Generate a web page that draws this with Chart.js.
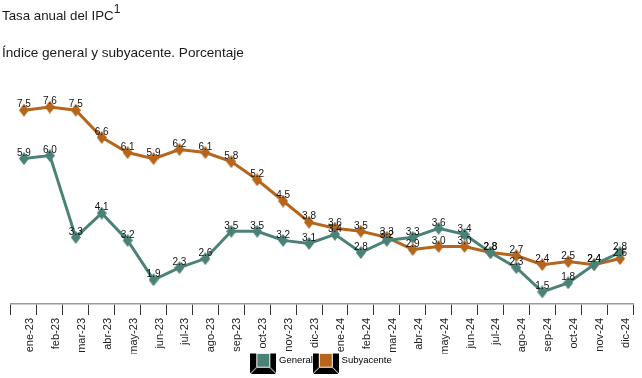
<!DOCTYPE html>
<html><head><meta charset="utf-8">
<script src="https://cdn.jsdelivr.net/npm/chart.js@4/dist/chart.umd.min.js"></script>
<style>
html,body{margin:0;padding:0;background:#fff;}
#wrap{position:relative;width:642px;height:378px;overflow:hidden;font-family:"Liberation Sans",Arial,sans-serif;color:#1a1a1a;}
#c{position:absolute;left:0;top:0;}
.t{position:absolute;left:2px;white-space:nowrap;line-height:16px;}
#title{top:8px;font-size:13.3px;}
#title sup{font-size:12px;vertical-align:0;position:relative;top:-7px;}
#sub{top:45px;font-size:13.6px;}
</style></head><body>
<div id="wrap"><canvas id="c" width="642" height="378"></canvas>
<div class="t" id="title">Tasa anual del IPC<sup>1</sup></div>
<div class="t" id="sub">Índice general y subyacente. Porcentaje</div></div>
<script>
const categories = ["ene-23","feb-23","mar-23","abr-23","may-23","jun-23","jul-23","ago-23","sep-23","oct-23","nov-23","dic-23",
                    "ene-24","feb-24","mar-24","abr-24","may-24","jun-24","jul-24","ago-24","sep-24","oct-24","nov-24","dic-24"];
const general    = [5.9,6.0,3.3,4.1,3.2,1.9,2.3,2.6,3.5,3.5,3.2,3.1, 3.4,2.8,3.2,3.3,3.6,3.4,2.8,2.3,1.5,1.8,2.4,2.8];
const subyacente = [7.5,7.6,7.5,6.6,6.1,5.9,6.2,6.1,5.8,5.2,4.5,3.8, 3.6,3.5,3.3,2.9,3.0,3.0,2.8,2.7,2.4,2.5,2.4,2.6];
const seriesNames = ["General","Subyacente"];

const FONT = '"Liberation Sans", Arial, sans-serif';
const C_GEN = '#4b8278';
const C_SUB = '#b5661c';

function diamond(color){
  const c=document.createElement('canvas');c.width=10;c.height=13;
  const x=c.getContext('2d');x.fillStyle=color;x.beginPath();
  x.moveTo(5,0);x.lineTo(10,6.5);x.lineTo(5,13);x.lineTo(0,6.5);x.closePath();x.fill();
  return c;
}
function legendBox(color){
  const w=26,h=27;
  const c=document.createElement('canvas');c.width=w;c.height=h;
  const x=c.getContext('2d');
  x.fillStyle='#000';x.fillRect(0,0,w,h);
  x.strokeStyle='#fff';x.lineWidth=1;
  x.beginPath();
  x.moveTo(0,0);x.lineTo(7,7);
  x.moveTo(w,0);x.lineTo(w-7,7);
  x.moveTo(0,h);x.lineTo(7,h-7);
  x.moveTo(w,h);x.lineTo(w-7,h-7);
  x.stroke();
  x.strokeRect(6.5,6.5,w-13,h-13);
  x.fillStyle=color;x.fillRect(7,7,w-14,h-14);
  return c;
}
const legendImgs=[legendBox(C_GEN),legendBox(C_SUB)];

const valueLabels={
  id:'valueLabels',
  afterDatasetsDraw(chart){
    const ctx=chart.ctx;ctx.save();
    ctx.font='10px '+FONT;ctx.fillStyle='#111';ctx.textAlign='center';ctx.textBaseline='middle';
    [1,0].forEach(i=>{
      const ds=chart.data.datasets[i];const meta=chart.getDatasetMeta(i);
      meta.data.forEach((pt,j)=>{ctx.fillText(ds.data[j].toFixed(1),pt.x,pt.y-5.5);});
    });
    ctx.restore();
  }
};

new Chart(document.getElementById('c'),{
  type:'line',
  data:{labels:categories,datasets:[
    {label:seriesNames[0],data:general,borderColor:C_GEN,backgroundColor:C_GEN,borderWidth:3,pointStyle:diamond(C_GEN),tension:0},
    {label:seriesNames[1],data:subyacente,borderColor:C_SUB,backgroundColor:C_SUB,borderWidth:3,pointStyle:diamond(C_SUB),tension:0}
  ]},
  options:{
    responsive:false,devicePixelRatio:1,animation:false,
    layout:{padding:{left:11,right:9,top:95,bottom:3}},
    scales:{
      y:{display:false,min:1.1,max:8.0},
      x:{offset:true,
        afterFit(scale){scale.height=49.5;},
        border:{display:true,color:'#999',width:1.5},
        grid:{display:true,drawOnChartArea:false,drawTicks:true,tickLength:11,color:'#333',lineWidth:1,offset:true},
        ticks:{autoSkip:false,maxRotation:90,minRotation:90,padding:3,labelOffset:6,color:'#222',font:{family:FONT,size:11}}
      }
    },
    plugins:{
      tooltip:{enabled:false},
      legend:{position:'bottom',align:'center',
        labels:{usePointStyle:true,pointStyleWidth:22,padding:2,color:'#111',font:{family:FONT,size:9.5},
          generateLabels:(chart)=>chart.data.datasets.map((ds,i)=>({text:ds.label,pointStyle:legendImgs[i],fillStyle:ds.borderColor,strokeStyle:'rgba(0,0,0,0)',lineWidth:0,hidden:false,datasetIndex:i}))}
      }
    }
  },
  plugins:[valueLabels]
});
</script>
</body></html>
